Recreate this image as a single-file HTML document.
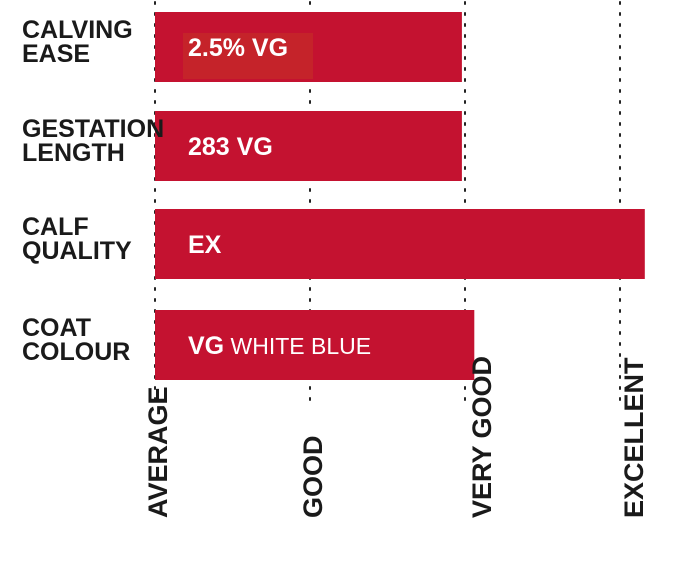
<!DOCTYPE html>
<html><head><meta charset="utf-8"><style>
html,body{margin:0;padding:0;background:#fff;}
svg{display:block;}
text{font-family:"Liberation Sans Narrow","Liberation Sans",sans-serif;font-weight:bold;}
</style></head><body>
<svg id="chart" width="675" height="576" viewBox="0 0 675 576"></svg>
<script>
const categories = [["CALVING","EASE"],["GESTATION","LENGTH"],["CALF","QUALITY"],["COAT","COLOUR"]];
const values = [1.98, 1.98, 3.16, 2.06];
const valueLabels = ["2.5% VG","283 VG","EX","VG"];
const valueSubLabels = ["","","","WHITE BLUE"];
const tickLabels = ["AVERAGE","GOOD","VERY GOOD","EXCELLENT"];
const tickValues = [0,1,2,3];

const NS="http://www.w3.org/2000/svg";
const svg=document.getElementById('chart');
const x0=155, unit=155;
const xs=v=>x0+v*unit;
const rowTop=[12,111,209,310], barH=70;
function mk(tag,attrs){const e=document.createElementNS(NS,tag);for(const k in attrs)e.setAttribute(k,attrs[k]);svg.appendChild(e);return e;}

tickValues.forEach((t,i)=>{
  const g=mk('line',{x1:xs(t),x2:xs(t),y1:2,y2:400,stroke:'#222','stroke-width':2,'stroke-dasharray':'2 9','stroke-linecap':'round'});
  
  
});
categories.forEach((c,i)=>{
  const y=rowTop[i];
  const b=mk('rect',{x:x0,y:y,width:xs(values[i])-x0,height:barH,fill:'#c41230'});
  
  
  if(i===0){
    const h=mk('rect',{x:183,y:y+21,width:130,height:barH-24,fill:'#c5232a'});
    
    
  }
  const lab=mk('text',{x:22,y:y+26,'font-size':25,fill:'#1a1a1a'});
  
  
  c.forEach((line,j)=>{const ts=document.createElementNS(NS,'tspan');ts.setAttribute('x',22);ts.setAttribute('dy',j?24:0);ts.textContent=line;lab.appendChild(ts);});
  const vt=mk('text',{x:188,y:y+44,'font-size':25,fill:'#fff'});
  
  
  vt.textContent=valueLabels[i];
  if(valueSubLabels[i]){const ts=document.createElementNS(NS,'tspan');ts.setAttribute('font-weight','normal');ts.setAttribute('font-size',23);ts.textContent=' '+valueSubLabels[i];vt.appendChild(ts);}
});
tickValues.forEach((t,i)=>{
  const cx=[157,312,481,633][i];
  const tx=mk('text',{x:0,y:0,'font-size':27,fill:'#1a1a1a',transform:`translate(${cx+10},518) rotate(-90)`});
  
  
  tx.textContent=tickLabels[i];
});
</script>
</body></html>
